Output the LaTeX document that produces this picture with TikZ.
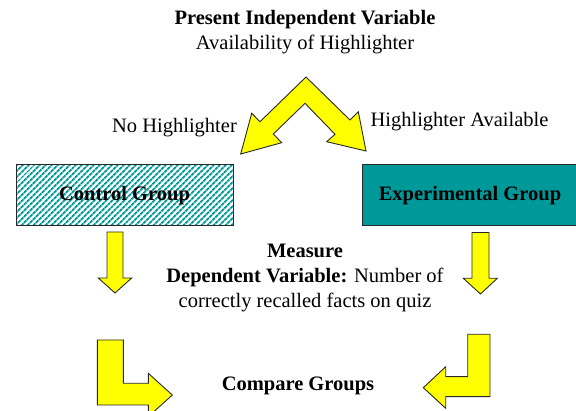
\documentclass[tikz,border=0pt]{standalone}
\usepackage{fontspec}
\setmainfont{Liberation Serif}
\usetikzlibrary{patterns.meta}
\definecolor{tealc}{RGB}{0,153,153}
\definecolor{yel}{RGB}{255,255,0}
\definecolor{edge}{RGB}{40,40,40}
\tikzset{
  txt/.style={inner sep=0pt, font=\fontsize{20.5}{25}\selectfont, align=center},
  blockarrow/.style={fill=yel, draw=edge, line width=0.9pt, line join=miter},
  groupbox/.style={draw=edge, line width=1pt, minimum height=61pt, inner sep=0pt, font=\fontsize{20.5}{25}\selectfont\bfseries}
}
\begin{document}
\begin{tikzpicture}[x=1pt,y=-1pt]
\useasboundingbox (0,0) rectangle (576,411);
\clip (0,0) rectangle (576,411);
% title
\node[txt] (title) at (305,32) {\textbf{Present Independent Variable}\\Availability of Highlighter};
% chevron arrow
\draw[blockarrow] (306,77) -- (350,120) -- (358.3,111.7) -- (366,151) -- (326.7,141.7) -- (335,134.3)
  -- (305,103.3) -- (273.3,134) -- (281.7,142.7) -- (240.7,154) -- (251.7,113.3) -- (260,121.7) -- cycle;
\node[txt] (lno) at (174.5,128) {No Highlighter};
\node[txt] (lyes) at (459.5,122) {Highlighter Available};
% groups
\node[groupbox, minimum width=217pt, pattern={Lines[angle=45,distance=4pt,line width=2pt]}, pattern color=tealc] (control) at (124.5,195.5) {};
\node[inner sep=0pt, font=\fontsize{20.5}{25}\selectfont\bfseries] (controlt) at (control.center) {Control Group};
\node[groupbox, minimum width=216pt, fill=tealc] (exp) at (470,195.5) {Experimental Group};
% down arrows
\draw[blockarrow] (107,232) -- (123,232) -- (123,278) -- (131.7,278) -- (115,293) -- (98.3,278) -- (107,278) -- cycle;
\draw[blockarrow] (472,232.5) -- (489,232.5) -- (489,278.3) -- (497.3,278.3) -- (480.5,294) -- (463.3,278.3) -- (472,278.3) -- cycle;
% measure text
\node[txt] (measure) at (305,278) {\textbf{Measure}\\\textbf{Dependent Variable:} Number of\\correctly recalled facts on quiz};
% L arrows
\draw[blockarrow] (97.3,340) -- (123.3,340) -- (123.3,383.3) -- (148.3,383.3) -- (148.3,373.3) -- (172.3,395)
  -- (148.3,416.7) -- (148.3,405) -- (97.3,405) -- cycle;
\draw[blockarrow] (467.7,334.3) -- (490,334.3) -- (490,396.7) -- (445.7,396.7) -- (445.7,408.3) -- (423.3,387.7)
  -- (445.7,366.7) -- (445.7,376.7) -- (467.7,376.7) -- cycle;
\node[txt, font=\fontsize{20.5}{25}\selectfont\bfseries] (compare) at (298,386) {Compare Groups};
\end{tikzpicture}
\end{document}
